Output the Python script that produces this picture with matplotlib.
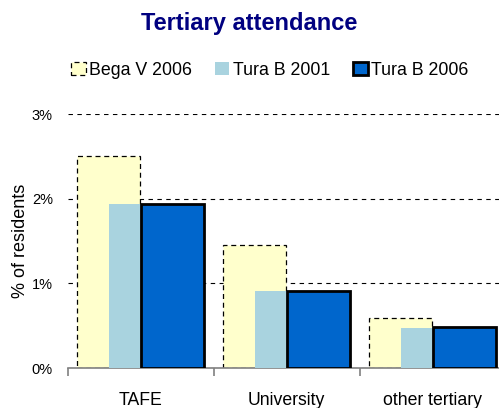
import numpy as np
import matplotlib
matplotlib.use("Agg")
import matplotlib.pyplot as plt
from matplotlib.ticker import FuncFormatter

plt.rcParams['font.family'] = ['Liberation Sans', 'DejaVu Sans']

# -------------------------------
# Data (% of residents)
# -------------------------------
categories = ["TAFE", "University", "other tertiary"]
bega_2006 = [2.50, 1.45, 0.59]
tura_2001 = [1.94, 0.91, 0.47]
tura_2006 = [1.94, 0.91, 0.48]
series_names = ["Bega V 2006", "Tura B 2001", "Tura B 2006"]

# -------------------------------
# Figure
# -------------------------------
fig = plt.figure(figsize=(4.99, 4.08), dpi=100)
ax = fig.add_axes([0.1353, 0.098, 0.8778, 0.6225])

x = np.arange(len(categories))
w = 0.43
off = 0.22

b1 = ax.bar(x - off, bega_2006, w, color="#FFFFCC", edgecolor="black",
            linewidth=0.9, linestyle=(0, (4, 3)), zorder=2, label=series_names[0])
b2 = ax.bar(x, tura_2001, w, color="#A9D3DF", edgecolor="none",
            zorder=3, label=series_names[1])
b3 = ax.bar(x + off, tura_2006, w, color="#0066CC", edgecolor="black",
            linewidth=2, zorder=4, label=series_names[2])

ax.set_xlim(-0.5, 2.5)
ax.set_ylim(0, 3)
ax.set_yticks([0, 1, 2, 3])
ax.yaxis.set_major_formatter(FuncFormatter(lambda v, p: f"{v:.0f}%"))
ax.yaxis.grid(True, color="black", linestyle=(0, (4, 4)), linewidth=0.8, zorder=0)
ax.set_axisbelow(True)

# category boundary ticks on x axis
ax.set_xticks([-0.5, 0.5, 1.5, 2.5])
ax.set_xticklabels([])
ax.set_xticks(x, minor=True)
ax.set_xticklabels(categories, minor=True, fontsize=12.7)
ax.tick_params(axis="x", which="minor", length=0, pad=17)
ax.tick_params(axis="x", which="major", length=6, color="gray", width=1.2, direction="out")
ax.tick_params(axis="y", length=0, labelsize=10.5, pad=10.5)

for s in ["top", "right", "left"]:
    ax.spines[s].set_visible(False)
ax.spines["bottom"].set_color("gray")
ax.spines["bottom"].set_linewidth(1.2)

ax.set_ylabel("% of residents", fontsize=13)
ax.yaxis.set_label_coords(-0.088, 0.5)

fig.text(0.499, 0.943, "Tertiary attendance", ha="center", va="center",
         fontsize=17, fontweight="bold", color="#000080")

fig.legend(handles=[b1, b2, b3], loc="center", bbox_to_anchor=(0.541, 0.828),
           ncol=3, frameon=False, fontsize=12.8, handlelength=0.8,
           handleheight=0.8, handletextpad=0.2, columnspacing=1.3)

fig.savefig("out.png", dpi=100)
